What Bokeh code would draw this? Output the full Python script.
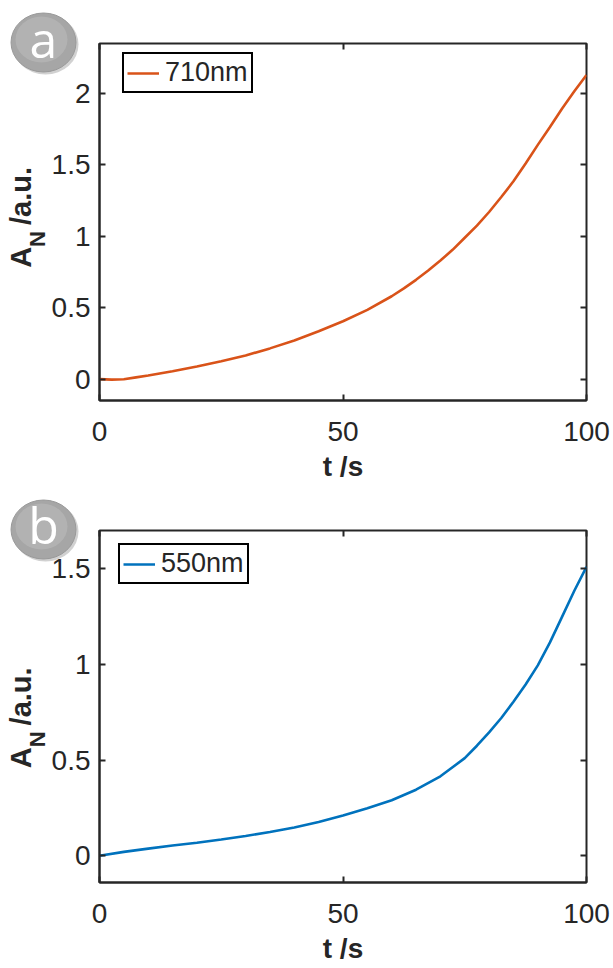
import math
from bokeh.plotting import figure
from bokeh.models import LinearAxis, FixedTicker, Range1d, CustomJSTickFormatter
from bokeh.core.properties import value
from bokeh.layouts import column
from bokeh.embed import file_html
from bokeh.resources import INLINE

# ---------------- data ----------------
t_a = [0, 2.5, 5, 7.5, 10, 15, 20, 25, 30, 35, 40, 45, 50, 55, 60, 62.5, 65, 67.5, 70, 72.5,
       75, 77.5, 80, 82.5, 85, 87.5, 90, 92.5, 95, 97.5, 100]
a_710 = [0.0, -0.004, -0.001, 0.012, 0.025, 0.055, 0.088, 0.125, 0.165, 0.215, 0.27, 0.335,
         0.405, 0.485, 0.58, 0.635, 0.695, 0.76, 0.83, 0.905, 0.99, 1.075, 1.17, 1.275,
         1.385, 1.51, 1.64, 1.765, 1.895, 2.015, 2.13]

t_b = [0, 5, 10, 15, 20, 25, 30, 35, 40, 45, 50, 55, 60, 65, 70, 75, 77.5, 80, 82.5, 85,
       87.5, 90, 92.5, 95, 97.5, 100]
a_550 = [0.0, 0.02, 0.037, 0.053, 0.068, 0.085, 0.103, 0.124, 0.148, 0.176, 0.21, 0.248,
         0.29, 0.345, 0.415, 0.51, 0.575, 0.645, 0.72, 0.805, 0.895, 0.995, 1.115, 1.25,
         1.385, 1.51]

x_ticks = [0, 50, 100]
x_tick_labels = ["0", "50", "100"]
y_ticks_a = [0, 0.5, 1, 1.5, 2]
y_tick_labels_a = ["0", "0.5", "1", "1.5", "2"]
y_ticks_b = [0, 0.5, 1, 1.5]
y_tick_labels_b = ["0", "0.5", "1", "1.5"]

series_names = ["710nm", "550nm"]
series_colors = ["#D95319", "#0072BD"]
panel_letters = ["a", "b"]
x_label = "t /s"
y_label_main = "A"
y_label_sub = "N"
y_label_unit = "/a.u."

# ---------------- style ----------------
FONT = "Liberation Sans"
INK = "#262626"
W = 613
LEFT = 99
RIGHT = 27
FRAME_W = W - LEFT - RIGHT
X_RANGE = (0, 100)


def formatter(ticks, labels):
    return CustomJSTickFormatter(args=dict(tvals=ticks, tlabels=labels), code="""
        for (let i = 0; i < tvals.length; i++) {
            if (Math.abs(tvals[i] - tick) < 1e-9) { return tlabels[i]; }
        }
        return "";
    """)


def style_axis(ax, ticks, labels, show_labels):
    ax.ticker = FixedTicker(ticks=ticks)
    ax.major_tick_in = 6
    ax.major_tick_out = 0
    ax.minor_tick_in = 0
    ax.minor_tick_out = 0
    ax.major_tick_line_color = INK
    ax.major_tick_line_width = 2
    ax.axis_line_color = INK
    ax.axis_line_width = 2
    ax.major_label_text_font = FONT
    ax.major_label_text_color = INK
    if show_labels:
        ax.formatter = formatter(ticks, labels)
        ax.major_label_text_font_size = "28px"
    else:
        ax.formatter = CustomJSTickFormatter(code="return '';")
        ax.major_label_text_color = None
        ax.major_label_standoff = 0
        ax.axis_line_color = None


def make_panel(t, y, name, color, yr, yticks, ylabels, letter, height, top, frame_h,
               legend_dx, legend_dy, letter_dy, ylabel_shift):
    p = figure(width=W, height=height,
               x_range=Range1d(*X_RANGE), y_range=Range1d(*yr),
               output_backend="svg", toolbar_location=None,
               min_border_left=LEFT, min_border_right=RIGHT,
               min_border_top=top, min_border_bottom=height - top - frame_h)
    p.background_fill_color = "white"
    p.border_fill_color = "white"
    p.outline_line_color = INK
    p.outline_line_width = 2
    p.outline_line_alpha = 1
    p.xgrid.visible = False
    p.ygrid.visible = False

    p.line(t, y, line_color=color, line_width=2.6, legend_label=name)

    style_axis(p.xaxis[0], x_ticks, x_tick_labels, True)
    style_axis(p.yaxis[0], yticks, ylabels, True)
    p.xaxis[0].major_label_standoff = 21
    p.yaxis[0].major_label_standoff = 9
    p.xaxis[0].axis_label = x_label
    p.xaxis[0].axis_label_text_font = FONT
    p.xaxis[0].axis_label_text_font_style = "bold"
    p.xaxis[0].axis_label_text_font_size = "28px"
    p.xaxis[0].axis_label_text_color = INK
    p.xaxis[0].axis_label_standoff = 7

    top_ax = LinearAxis()
    right_ax = LinearAxis()
    style_axis(top_ax, x_ticks, x_tick_labels, False)
    style_axis(right_ax, yticks, ylabels, False)
    p.add_layout(top_ax, "above")
    p.add_layout(right_ax, "right")

    # pixel -> data helpers (offsets measured from frame's top-left corner)
    sx = FRAME_W / (X_RANGE[1] - X_RANGE[0])
    sy = frame_h / (yr[1] - yr[0])

    def dx(px):
        return X_RANGE[0] + px / sx

    def dy(px_down):
        return yr[1] - px_down / sy

    # legend
    lg = p.legend[0]
    lg.location = (legend_dx, frame_h - legend_dy - 40)
    lg.border_line_color = "black"
    lg.border_line_width = 2
    lg.border_line_alpha = 1
    lg.background_fill_color = "white"
    lg.background_fill_alpha = 1
    lg.label_text_font = FONT
    lg.label_text_font_size = "27px"
    lg.label_text_color = INK
    lg.glyph_width = 32
    lg.glyph_height = 22
    lg.label_height = 22
    lg.label_standoff = 6
    lg.padding = 3
    lg.margin = 0
    lg.spacing = 0

    # panel badge (shaded grey disc with a white letter), drawn outside the frame
    bx, by = dx(-56), dy(-1)
    p.ellipse([bx + 2 / sx], [by - 2 / sy], width=66, height=60, width_units="screen",
              height_units="screen", fill_color="#7a7a7a", fill_alpha=0.35,
              line_color=None, level="overlay")
    p.ellipse([bx], [by], width=65, height=59, width_units="screen", height_units="screen",
              fill_color="#a6a6a6", line_color="#999999", line_width=1, level="overlay")
    p.ellipse([bx - 2 / sx], [by + 3 / sy], width=52, height=46, width_units="screen",
              height_units="screen", fill_color="#b5b5b5", fill_alpha=0.8,
              line_color=None, level="overlay")
    p.text([bx], [by], text=[letter], text_align="center", text_baseline="middle",
           text_color="white", text_font=value("Open Sans"), text_font_size="50px",
           y_offset=letter_dy, level="overlay")

    # y-axis label  A_N /a.u.  (rotated, with subscript)
    start = frame_h / 2 + ylabel_shift
    main_x = dx(-79)
    sub_x = dx(-62)
    common = dict(angle=math.pi / 2, text_align="left", text_baseline="alphabetic",
                  text_font=value(FONT), text_font_style="bold", text_color=INK,
                  level="overlay")
    p.text([main_x], [dy(start)], text=[y_label_main], text_font_size="29px", **common)
    p.text([sub_x], [dy(start - 21)], text=[y_label_sub], text_font_size="22px", **common)
    p.text([main_x], [dy(start - 43)], text=[y_label_unit], text_font_size="29px", **common)
    return p


pa = make_panel(t_a, a_710, series_names[0], series_colors[0], (-0.15, 2.35),
                y_ticks_a, y_tick_labels_a, panel_letters[0],
                height=484, top=43, frame_h=358, legend_dx=23, legend_dy=11, letter_dy=-4,
                ylabel_shift=46)
pb = make_panel(t_b, a_550, series_names[1], series_colors[1], (-0.14, 1.70),
                y_ticks_b, y_tick_labels_b, panel_letters[1],
                height=482, top=46, frame_h=354, legend_dx=19, legend_dy=16, letter_dy=-5,
                ylabel_shift=62)

layout = column(pa, pb, spacing=0)
open("out.html", "w").write(file_html(layout, INLINE))
